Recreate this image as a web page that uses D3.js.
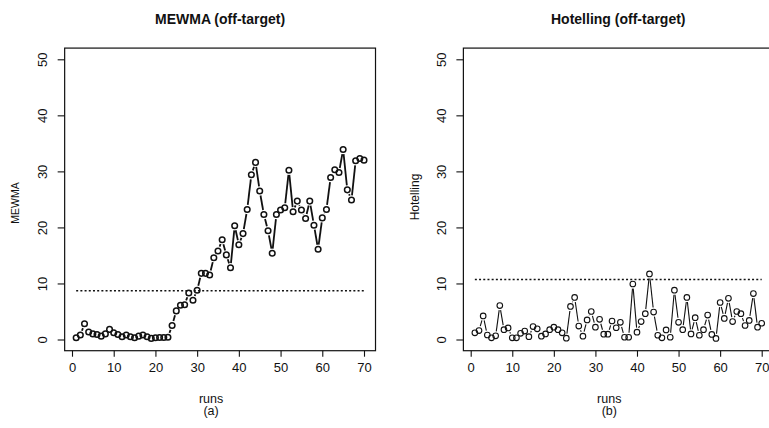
<!DOCTYPE html>
<html>
<head>
<meta charset="utf-8">
<script src="https://cdn.jsdelivr.net/npm/d3@7/dist/d3.min.js"></script>
<style>
  html, body { margin: 0; padding: 0; background: #fff; }
  svg { display: block; font-family: "Liberation Sans", Arial, Helvetica, sans-serif; }
</style>
</head>
<body>
<svg id="chart" width="769" height="428"></svg>
<script>
// Run index and monitored statistics
const runs = d3.range(1, 71);
const mewmaValues = [
  0.3, 0.8, 2.8, 1.35, 1.0, 0.9, 0.6, 1.0, 1.8, 1.2,
  0.9, 0.5, 0.8, 0.5, 0.3, 0.6, 0.8, 0.5, 0.2, 0.3,
  0.35, 0.35, 0.4, 2.5, 5.1, 6.1, 6.2, 8.3, 7.0, 8.8,
  11.8, 11.8, 11.5, 14.6, 15.8, 17.8, 15.1, 12.8, 20.3, 16.9,
  18.9, 23.2, 29.4, 31.6, 26.5, 22.3, 19.4, 15.4, 22.3, 23.1,
  23.5, 30.2, 22.8, 24.7, 23.1, 21.6, 24.7, 20.4, 16.1, 21.7,
  23.2, 28.9, 30.3, 29.8, 33.9, 26.7, 24.9, 31.9, 32.3, 32.0
];
const hotellingValues = [
  1.2, 1.6, 4.2, 0.8, 0.3, 0.65, 6.05, 1.76, 2.06, 0.3,
  0.3, 1.1, 1.5, 0.5, 2.3, 1.9, 0.6, 1.0, 1.76, 2.2,
  1.76, 1.2, 0.23, 5.9, 7.5, 2.4, 0.6, 3.5, 5.0, 2.2,
  3.6, 0.95, 0.95, 3.3, 2.1, 3.06, 0.4, 0.4, 9.9, 1.3,
  3.2, 4.6, 11.7, 4.9, 0.76, 0.3, 1.7, 0.4, 8.8, 3.06,
  1.76, 7.5, 1.0, 3.9, 0.76, 1.76, 4.35, 0.9, 0.2, 6.6,
  3.76, 7.35, 3.2, 5.0, 4.6, 2.5, 3.4, 8.2, 2.2, 2.9
];
// Control limits (upper control limit of each chart)
const mewmaLimit = 8.7;
const hotellingLimit = 10.7;

const xTicks = [0, 10, 20, 30, 40, 50, 60, 70];
const yTicks = [0, 10, 20, 30, 40, 50];

const panels = [
  { title: "MEWMA (off-target)", ylab: "MEWMA", sub: "(a)", values: mewmaValues, limit: mewmaLimit,
    xRange: [72, 364], lineWidth: 1.8, pointStroke: 1.5, ylabSize: 10.5, ylabX: 15, ylabY: 203 },
  { title: "Hotelling (off-target)", ylab: "Hotelling", sub: "(b)", values: hotellingValues, limit: hotellingLimit,
    xRange: [470.7, 761.7], lineWidth: 1.1, pointStroke: 1.1, ylabSize: 12, ylabX: 415, ylabY: 197 }
];

const svg = d3.select("#chart");
const ink = "#111";

panels.forEach(p => {
  const x = d3.scaleLinear().domain([0, 70]).range(p.xRange);
  const y = d3.scaleLinear().domain([0, 50]).range([339.5, 59.3]);
  const bx0 = x(-1.76), bx1 = x(72.76), by0 = y(52), by1 = y(-2);
  const g = svg.append("g");

  // plot frame
  g.append("rect")
    .attr("x", bx0).attr("y", by0)
    .attr("width", bx1 - bx0).attr("height", by1 - by0)
    .attr("fill", "none").attr("stroke", ink).attr("stroke-width", 1.2);

  // x axis
  const xAxis = g.append("g")
    .attr("transform", `translate(0,${by1})`)
    .call(d3.axisBottom(x).tickValues(xTicks).tickSize(6).tickSizeOuter(0));
  xAxis.select(".domain").remove();
  xAxis.selectAll("line").attr("stroke", ink).attr("stroke-width", 1.1);
  xAxis.selectAll("text")
    .attr("y", 21.5).attr("dy", 0)
    .attr("fill", ink).attr("font-size", 13)
    .attr("font-family", "'Liberation Sans', Arial, sans-serif");

  // y axis with rotated labels
  const yAxis = g.append("g")
    .attr("transform", `translate(${bx0},0)`)
    .call(d3.axisLeft(y).tickValues(yTicks).tickSize(7).tickSizeOuter(0));
  yAxis.select(".domain").remove();
  yAxis.selectAll("line").attr("stroke", ink).attr("stroke-width", 1.1);
  yAxis.selectAll("text")
    .attr("x", 0).attr("y", 0).attr("dy", 0)
    .attr("text-anchor", "middle")
    .attr("transform", "translate(-17.5,0) rotate(-90)")
    .attr("fill", ink).attr("font-size", 13)
    .attr("font-family", "'Liberation Sans', Arial, sans-serif");

  // control limit
  g.append("line")
    .attr("x1", x(1)).attr("x2", x(70))
    .attr("y1", y(p.limit)).attr("y2", y(p.limit))
    .attr("stroke", ink).attr("stroke-width", 1.5)
    .attr("stroke-dasharray", "2,2.2");

  // connecting segments, broken around each point
  const pts = runs.map((r, i) => [x(r), y(p.values[i])]);
  const gap = 4.6;
  const segs = [];
  for (let i = 0; i < pts.length - 1; i++) {
    const [xa, ya] = pts[i], [xb, yb] = pts[i + 1];
    const dx = xb - xa, dy = yb - ya, len = Math.hypot(dx, dy);
    if (len <= 2 * gap) continue;
    const ux = dx / len, uy = dy / len;
    segs.push([xa + ux * gap, ya + uy * gap, xb - ux * gap, yb - uy * gap]);
  }
  g.append("g").selectAll("line").data(segs).join("line")
    .attr("x1", d => d[0]).attr("y1", d => d[1])
    .attr("x2", d => d[2]).attr("y2", d => d[3])
    .attr("stroke", ink).attr("stroke-width", p.lineWidth);

  // points
  g.append("g").selectAll("circle").data(runs).join("circle")
    .attr("cx", (r) => x(r))
    .attr("cy", (r, i) => y(p.values[i]))
    .attr("r", 2.8)
    .attr("fill", "none").attr("stroke", ink).attr("stroke-width", p.pointStroke);

  // titles and labels
  const cx = (bx0 + bx1) / 2;
  g.append("text")
    .attr("x", cx).attr("y", 24)
    .attr("text-anchor", "middle")
    .attr("font-weight", "bold").attr("font-size", 14).attr("fill", ink)
    .text(p.title);
  g.append("text")
    .attr("x", cx - 9).attr("y", 402.5)
    .attr("text-anchor", "middle").attr("font-size", 12.5).attr("fill", ink)
    .text("runs");
  g.append("text")
    .attr("x", cx - 9).attr("y", 415)
    .attr("text-anchor", "middle").attr("font-size", 12.5).attr("fill", ink)
    .text(p.sub);
  g.append("text")
    .attr("transform", `translate(${p.ylabX + 4},${p.ylabY}) rotate(-90)`)
    .attr("text-anchor", "middle").attr("font-size", p.ylabSize).attr("fill", ink)
    .text(p.ylab);
});
</script>
</body>
</html>
